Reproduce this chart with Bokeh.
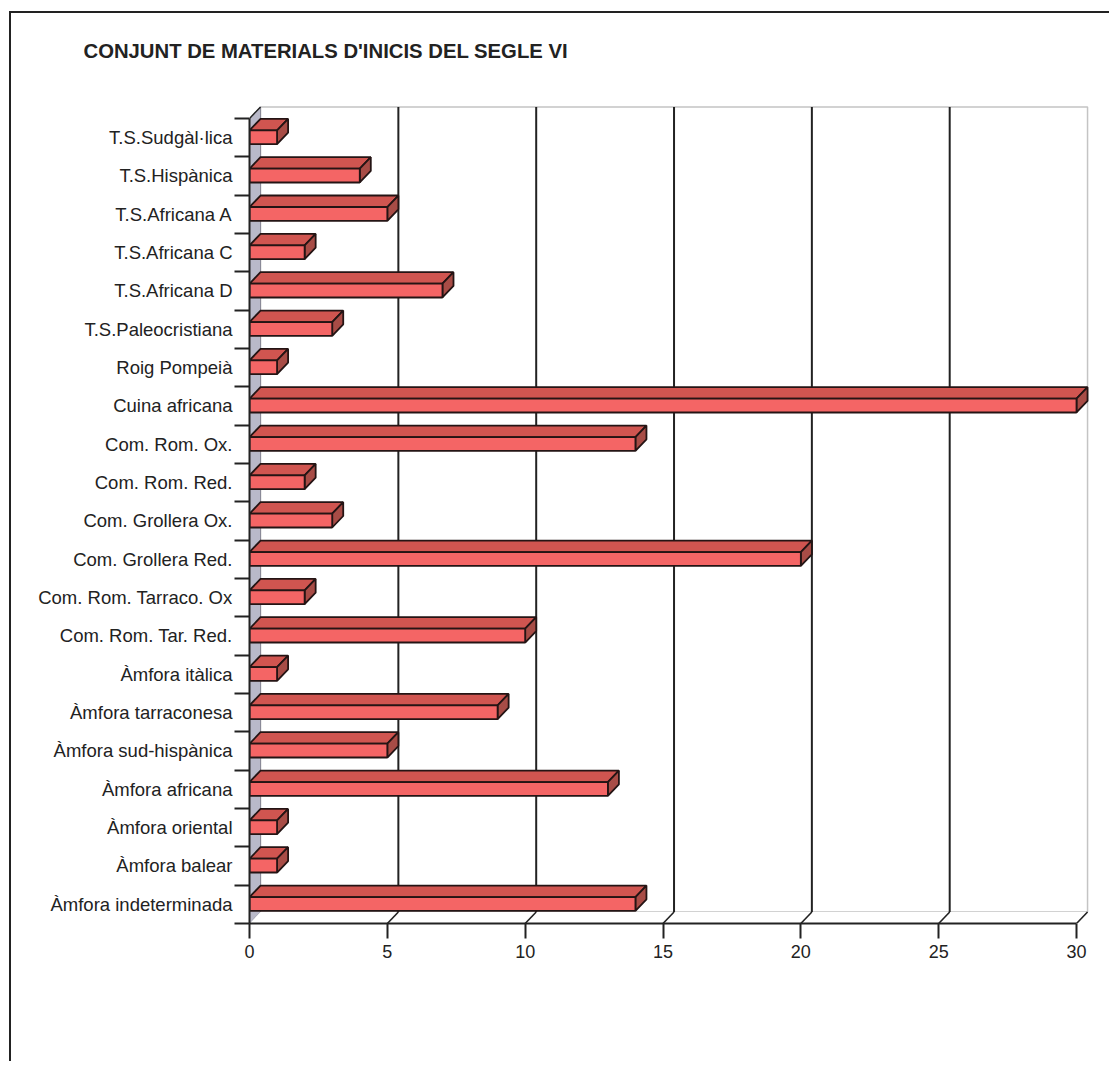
from bokeh.plotting import figure
from bokeh.models import FixedTicker, Range1d
from bokeh.embed import file_html
from bokeh.resources import INLINE

title_text = "CONJUNT DE MATERIALS D'INICIS DEL SEGLE VI"
categories = [
    "T.S.Sudgàl·lica", "T.S.Hispànica", "T.S.Africana A", "T.S.Africana C",
    "T.S.Africana D", "T.S.Paleocristiana", "Roig Pompeià", "Cuina africana",
    "Com. Rom. Ox.", "Com. Rom. Red.", "Com. Grollera Ox.", "Com. Grollera Red.",
    "Com. Rom. Tarraco. Ox", "Com. Rom. Tar. Red.", "Àmfora itàlica",
    "Àmfora tarraconesa", "Àmfora sud-hispànica", "Àmfora africana",
    "Àmfora oriental", "Àmfora balear", "Àmfora indeterminada",
]
values = [1, 4, 5, 2, 7, 3, 1, 30, 14, 2, 3, 20, 2, 10, 1, 9, 5, 13, 1, 1, 14]
x_ticks = [0, 5, 10, 15, 20, 25, 30]

n = len(categories)
x_max = x_ticks[-1]
DX, DY = 0.4, 0.3          # 3-D depth offset (x units, category units)
F_LO, F_HI = 0.33, 0.69    # front face of bar inside its band

FONT = "Liberation Sans"
INK = "#222222"

p = figure(width=1100, height=1050, output_backend="svg", toolbar_location=None,
           x_range=Range1d(0, x_max + 0.58), y_range=Range1d(0, n + 0.86),
           min_border_left=238, min_border_right=19, min_border_top=72,
           min_border_bottom=140)
p.styles = {"border-left": "2px solid #222", "border-top": "2px solid #222",
            "margin-left": "9px", "margin-top": "11px"}
p.background_fill_color = "white"
p.border_fill_color = "white"
p.outline_line_color = None
p.xgrid.visible = False
p.ygrid.visible = False

p.title.text = title_text
p.title.text_font = FONT
p.title.text_font_size = "20.3px"
p.title.text_font_style = "bold"
p.title.text_color = INK
p.title.align = "left"
p.title.offset = -166
p.title.standoff = 48

# walls and floor
p.patch([DX, x_max + DX, x_max + DX, DX], [DY, DY, n + DY, n + DY],
        fill_color="white", line_color="#c4c4c4", line_width=1.5)
p.patch([0, DX, DX, 0], [0, DY, n + DY, n],
        fill_color="#b9b9c9", line_color="#8a8a98", line_width=1)
p.segment(x0=[0], y0=[n], x1=[DX], y1=[n + DY], line_color=INK, line_width=1.5)
p.patch([0, x_max, x_max + DX, DX], [0, 0, DY, DY],
        fill_color="white", line_color=None)

grid_x = [t for t in x_ticks if 0 < t < x_max]
p.segment(x0=[t + DX for t in grid_x], y0=[DY] * len(grid_x),
          x1=[t + DX for t in grid_x], y1=[n + DY] * len(grid_x),
          line_color=INK, line_width=2)
floor_x = [t for t in x_ticks if t > 0]
p.segment(x0=floor_x, y0=[0] * len(floor_x),
          x1=[t + DX for t in floor_x], y1=[DY] * len(floor_x),
          line_color=INK, line_width=1.6)

# bars
bottoms = [n - 1 - i + F_LO for i in range(n)]
tops = [n - 1 - i + F_HI for i in range(n)]
front_xs = [[0, v, v, 0] for v in values]
front_ys = [[b, b, t, t] for b, t in zip(bottoms, tops)]
top_xs = [[0, v, v + DX, DX] for v in values]
top_ys = [[t, t, t + DY, t + DY] for t in tops]
side_xs = [[v, v + DX, v + DX, v] for v in values]
side_ys = [[b, b + DY, t + DY, t] for b, t in zip(bottoms, tops)]
OUT = "#241414"
p.patches(top_xs, top_ys, fill_color="#d05550", line_color=OUT, line_width=1.8)
p.patches(side_xs, side_ys, fill_color="#a84c46", line_color=OUT, line_width=1.8)
p.patches(front_xs, front_ys, fill_color="#f46565", line_color=OUT, line_width=1.8)

# axes
xa = p.xaxis[0]
xa.ticker = FixedTicker(ticks=x_ticks, minor_ticks=[])
xa.bounds = (0, x_max)
xa.major_tick_out = 15
xa.major_tick_in = 0
xa.major_tick_line_width = 2
xa.major_tick_line_color = INK
xa.axis_line_width = 2
xa.axis_line_color = INK
xa.major_label_standoff = 6
xa.major_label_text_font = FONT
xa.major_label_text_font_size = "18px"
xa.major_label_text_color = INK

ya = p.yaxis[0]
centers = [n - 1 - i + 0.5 for i in range(n)]
ya.ticker = FixedTicker(ticks=centers, minor_ticks=list(range(n + 1)))
ya.bounds = (0, n)
ya.major_label_overrides = {c: name for c, name in zip(centers, categories)}
ya.major_tick_out = 0
ya.major_tick_in = 0
ya.minor_tick_out = 15
ya.minor_tick_in = 0
ya.minor_tick_line_width = 2
ya.minor_tick_line_color = INK
ya.axis_line_width = 2
ya.axis_line_color = INK
ya.major_label_standoff = 2
ya.major_label_text_font = FONT
ya.major_label_text_font_size = "18.5px"
ya.major_label_text_color = INK

open("out.html", "w").write(file_html(p, INLINE))
